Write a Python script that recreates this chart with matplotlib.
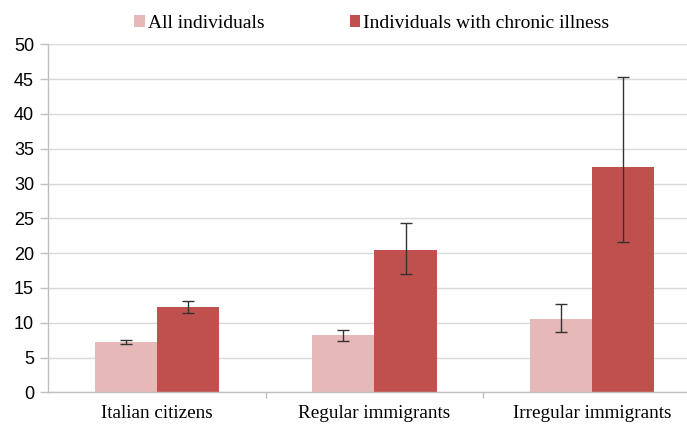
import matplotlib
matplotlib.use("Agg")
import matplotlib.pyplot as plt
import numpy as np

categories = ["Italian citizens", "Regular immigrants", "Irregular immigrants"]
series_names = ["All individuals", "Individuals with chronic illness"]
all_vals = [7.2, 8.2, 10.6]
all_err_low = [0.3, 0.8, 1.9]
all_err_high = [0.3, 0.8, 2.1]
chronic_vals = [12.2, 20.4, 32.4]
chronic_err_low = [0.85, 3.4, 10.8]
chronic_err_high = [0.85, 3.9, 12.9]
yticks = [0, 5, 10, 15, 20, 25, 30, 35, 40, 45, 50]

fig = plt.figure(figsize=(6.87, 4.26), dpi=100)
L, B = 48 / 687, (426 - 392.3) / 426
W, H = 653 / 687, (392.3 - 44.3) / 426
ax = fig.add_axes([L, B, W, H])

x = np.arange(len(categories))
bw = 0.285
c1, c2 = "#e6b8b7", "#c0504d"
ax.bar(x - bw / 2, all_vals, bw, color=c1, zorder=2, label=series_names[0])
ax.bar(x + bw / 2, chronic_vals, bw, color=c2, zorder=2, label=series_names[1])
ax.errorbar(x - bw / 2, all_vals, yerr=[all_err_low, all_err_high], fmt="none",
            ecolor="#333333", elinewidth=1, capsize=4, capthick=1, zorder=3)
ax.errorbar(x + bw / 2, chronic_vals, yerr=[chronic_err_low, chronic_err_high], fmt="none",
            ecolor="#333333", elinewidth=1, capsize=4, capthick=1, zorder=3)

ax.set_xlim(-0.5, 2.5)
ax.set_ylim(0, 50)
ax.set_yticks(yticks)
ax.set_yticklabels([str(v) for v in yticks], fontsize=13, family="Liberation Sans")
ax.yaxis.grid(True, color="#d9d9d9", linewidth=1, zorder=0)
ax.set_axisbelow(True)

ax.set_xticks([0.5, 1.5])
ax.set_xticklabels([])
ax.tick_params(axis="x", length=4, color="#bfbfbf", width=1)
ax.tick_params(axis="y", length=6, color="#bfbfbf", width=1, pad=4)
for i, c in enumerate(categories):
    ax.text(i, -3.0, c, ha="center", va="center", fontsize=13.8,
            family="Liberation Serif", transform=ax.transData)

for s in ["top", "right"]:
    ax.spines[s].set_visible(False)
for s in ["left", "bottom"]:
    ax.spines[s].set_color("#bfbfbf")
    ax.spines[s].set_linewidth(1)

leg = fig.legend(loc="center", bbox_to_anchor=(0.541, 0.945), ncol=2, frameon=False,
                 prop={"family": "Liberation Serif", "size": 14},
                 handlelength=0.55, handleheight=0.55, handletextpad=0.15, columnspacing=4.4)

fig.savefig("out.png", dpi=100)
